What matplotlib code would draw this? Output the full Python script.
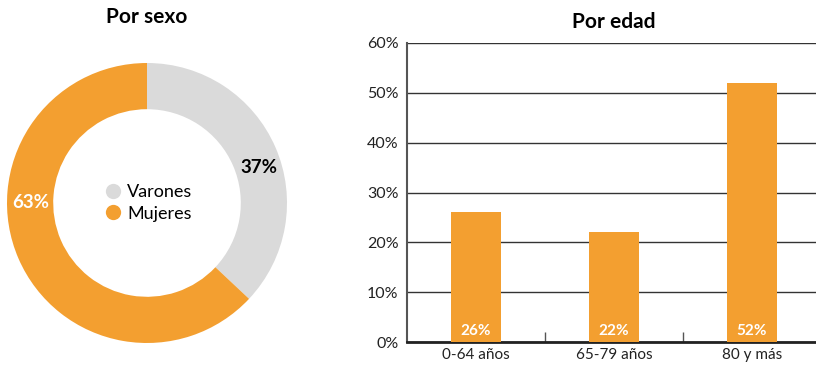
import matplotlib
matplotlib.use('Agg')
from matplotlib import pyplot as plt
from matplotlib.lines import Line2D

# datos
sexo = ['Varones', 'Mujeres']
sexo_pct = [37, 63]
edad = ['0-64 años', '65-79 años', '80 y más']
edad_pct = [26, 22, 52]
yticks = [0, 10, 20, 30, 40, 50, 60]

naranja = '#F39F30'
gris = '#DADADA'
plt.rcParams['font.family'] = ['Lato', 'DejaVu Sans']

fig = plt.figure(figsize=(8.16, 3.68), dpi=100)

# donut
ax1 = fig.add_axes([7 / 816, 25 / 368, 280 / 816, 280 / 368])
ax1.pie(sexo_pct, colors=[gris, naranja], startangle=90, counterclock=False,
        radius=1, wedgeprops=dict(width=0.33, edgecolor='none'))
ax1.set_xlim(-1, 1)
ax1.set_ylim(-1, 1)
ax1.set_aspect('equal')
ax1.text(0.8, 0.25, f'{sexo_pct[0]}%', ha='center', va='center',
         fontsize=13.5, fontweight='bold', color='black')
ax1.text(-0.83, 0.0, f'{sexo_pct[1]}%', ha='center', va='center',
         fontsize=13.5, fontweight='bold', color='white')
handles = [Line2D([], [], marker='o', linestyle='', markersize=11,
                  markerfacecolor=c, markeredgecolor='none')
           for c in [gris, naranja]]
ax1.legend(handles, sexo, loc='center', bbox_to_anchor=(0.5, 0.5),
           frameon=False, fontsize=13, handletextpad=0.2, labelspacing=0.3,
           handlelength=1.2, borderaxespad=0)
fig.text(147 / 816, 1 - 17 / 368, 'Por sexo', ha='center', va='center',
         fontsize=15, fontweight='bold')

# barras
ax2 = fig.add_axes([407 / 816, 26 / 368, 414 / 816, 299 / 368])
x = list(range(len(edad)))
ax2.bar(x, edad_pct, width=0.36, color=naranja, zorder=3)
for i, v in zip(x, edad_pct):
    ax2.text(i, 0.8, f'{v}%', ha='center', va='bottom', color='white',
             fontsize=11, fontweight='bold', zorder=4)
ax2.set_xlim(-0.5, 2.5)
ax2.set_ylim(0, 60)
ax2.set_yticks(yticks)
ax2.set_yticklabels([f'{t}%' for t in yticks], fontsize=11.5, color='#222222')
ax2.tick_params(axis='y', length=0, pad=6)
ax2.set_xticks(x)
ax2.set_xticklabels(edad, fontsize=11, color='#222222')
ax2.tick_params(axis='x', length=0, pad=4)
ax2.set_xticks([0.5, 1.5], minor=True)
ax2.tick_params(axis='x', which='minor', direction='in', length=7,
                width=1, color='#555555')
ax2.grid(axis='y', color='#333333', linewidth=1, zorder=0)
for s in ['top', 'right']:
    ax2.spines[s].set_visible(False)
ax2.spines['left'].set_color('#555555')
ax2.spines['left'].set_linewidth(1.5)
ax2.spines['bottom'].set_color('#222222')
ax2.spines['bottom'].set_linewidth(2)
ax2.set_title('Por edad', fontsize=15, fontweight='bold', pad=11)

fig.savefig('out.png', dpi=100)
